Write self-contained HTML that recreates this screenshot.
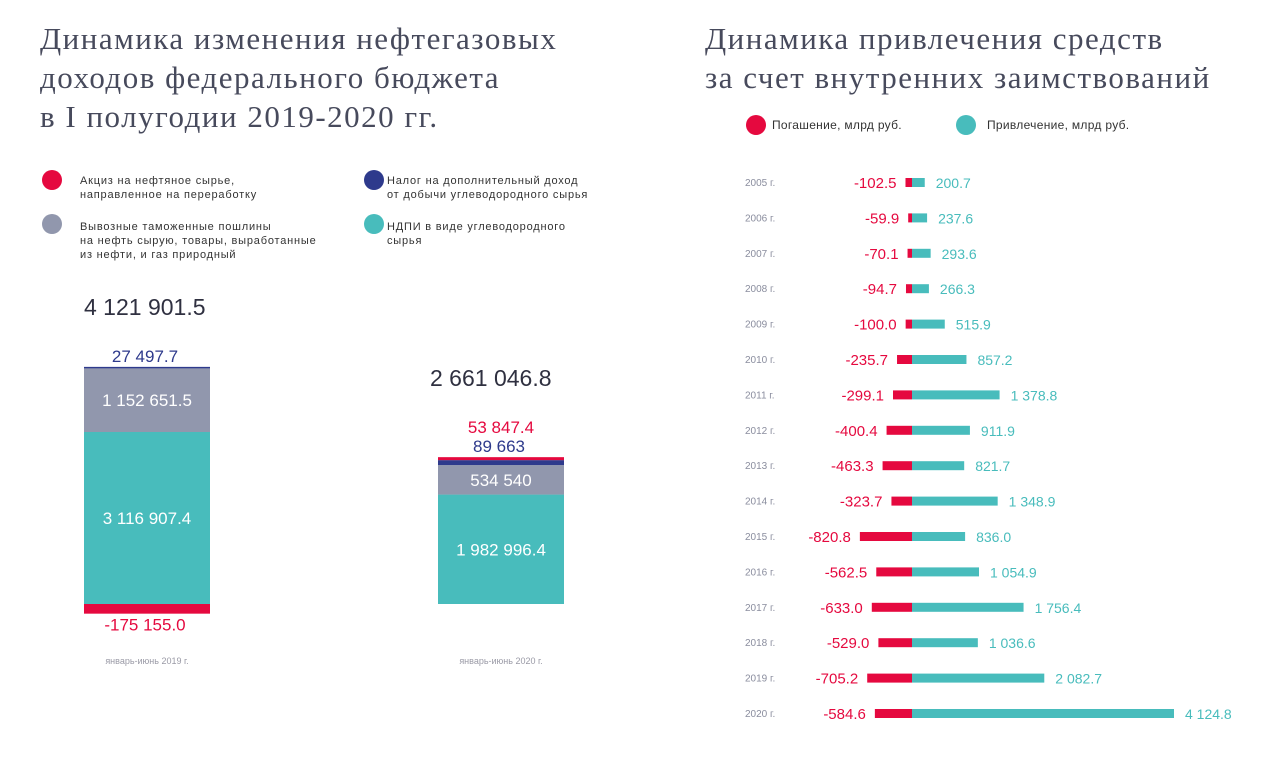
<!DOCTYPE html>
<html><head><meta charset="utf-8">
<style>
body{margin:0;width:1280px;height:757px;background:#fff;overflow:hidden;font-family:"Liberation Sans",sans-serif;position:relative}
.t{position:absolute;font-family:"Liberation Serif",serif;font-size:31px;line-height:39px;color:#474a5c;margin:0;font-weight:normal;letter-spacing:1.5px}
.leg{position:absolute;font-size:11px;line-height:14px;color:#333;letter-spacing:0.8px}
.dot{position:absolute;width:20px;height:20px;border-radius:50%}
svg{position:absolute;left:0;top:0}
</style></head><body>
<h1 class="t" style="left:40px;top:19px">Динамика изменения нефтегазовых<br>доходов федерального бюджета<br>в I полугодии 2019-2020 гг.</h1>
<h1 class="t" style="left:705px;top:19px">Динамика привлечения средств<br>за счет внутренних заимствований</h1>

<div class="dot" style="left:42px;top:170px;background:#e5093f"></div>
<div class="leg" style="left:80px;top:174px">Акциз на нефтяное сырье,<br>направленное на переработку</div>
<div class="dot" style="left:364px;top:170px;background:#2e3a8c"></div>
<div class="leg" style="left:387px;top:174px">Налог на дополнительный доход<br>от добычи углеводородного сырья</div>
<div class="dot" style="left:42px;top:214px;background:#9197ad"></div>
<div class="leg" style="left:80px;top:220px">Вывозные таможенные пошлины<br>на нефть сырую, товары, выработанные<br>из нефти, и газ природный</div>
<div class="dot" style="left:364px;top:214px;background:#48bcbc"></div>
<div class="leg" style="left:387px;top:220px">НДПИ в виде углеводородного<br>сырья</div>

<div class="dot" style="left:746px;top:115px;background:#e5093f"></div>
<div class="leg" style="left:772px;top:118px;font-size:12px;letter-spacing:0.3px">Погашение, млрд руб.</div>
<div class="dot" style="left:956px;top:115px;background:#48bcbc"></div>
<div class="leg" style="left:987px;top:118px;font-size:12px;letter-spacing:0.3px">Привлечение, млрд руб.</div>

<svg id="chart" width="1280" height="757"></svg>
<script>
const periods=["январь-июнь 2019 г.","январь-июнь 2020 г."];
const totals=["4 121 901.5","2 661 046.8"];
const ndpi=[3116907.4,1982996.4];
const exportDuty=[1152651.5,534540];
const ndd=[27497.7,89663];
const excise=[-175155.0,53847.4];
const ndpiLbl=["3 116 907.4","1 982 996.4"];
const exportLbl=["1 152 651.5","534 540"];
const nddLbl=["27 497.7","89 663"];
const exciseLbl=["-175 155.0","53 847.4"];

const years=["2005 г.","2006 г.","2007 г.","2008 г.","2009 г.","2010 г.","2011 г.","2012 г.","2013 г.","2014 г.","2015 г.","2016 г.","2017 г.","2018 г.","2019 г.","2020 г."];
const repay=[-102.5,-59.9,-70.1,-94.7,-100.0,-235.7,-299.1,-400.4,-463.3,-323.7,-820.8,-562.5,-633.0,-529.0,-705.2,-584.6];
const borrow=[200.7,237.6,293.6,266.3,515.9,857.2,1378.8,911.9,821.7,1348.9,836.0,1054.9,1756.4,1036.6,2082.7,4124.8];
const borrowLbl=["200.7","237.6","293.6","266.3","515.9","857.2","1 378.8","911.9","821.7","1 348.9","836.0","1 054.9","1 756.4","1 036.6","2 082.7","4 124.8"];

const svg=document.getElementById('chart');
const NS="http://www.w3.org/2000/svg";
function mk(tag,attrs,txt){const e=document.createElementNS(NS,tag);for(const k in attrs)e.setAttribute(k,attrs[k]);if(txt!==undefined)e.textContent=txt;svg.appendChild(e);return e;}
const RED="#e5093f",TEAL="#48bcbc",GREY="#9197ad",NAVY="#2e3a8c";

const base=604, k=172/3116907.4;
const barX=[84,438], barW=126;
periods.forEach((p,i)=>{
  const x=barX[i], cx=x+barW/2;
  let top=base;
  const segs=[[ndpi[i],TEAL,'ndpi'],[exportDuty[i],GREY,'export'],[ndd[i],NAVY,'ndd']];
  if(excise[i]>0) segs.push([excise[i],RED,'excise']);
  const stackEnds=[];
  segs.forEach(s=>{
    const h=s[0]*k;
    const r=mk('rect',{x:x,y:top-h,width:barW,height:h,fill:s[1]});
    
    
    stackEnds.push([top-h,top]);
    top-=h;
  });
  if(excise[i]<0){
    const h=-excise[i]*k;
    const r=mk('rect',{x:x,y:base,width:barW,height:h,fill:RED});
    
    
    const t=mk('text',{x:cx-2,y:base+h+17,'text-anchor':'middle','font-size':17,fill:RED},exciseLbl[i]);
    
    
  }
  const t1=mk('text',{x:cx,y:(stackEnds[0][0]+stackEnds[0][1])/2+6,'text-anchor':'middle','font-size':17,fill:'#fff'},ndpiLbl[i]);
  
  
  const t2=mk('text',{x:cx,y:(stackEnds[1][0]+stackEnds[1][1])/2+6,'text-anchor':'middle','font-size':17,fill:'#fff'},exportLbl[i]);
  
  
  let ly=top-5;
  const t3=mk('text',{x:cx-2,y:ly,'text-anchor':'middle','font-size':17,fill:NAVY},nddLbl[i]);
  
  
  if(excise[i]>0){
    const t4=mk('text',{x:cx,y:ly-19,'text-anchor':'middle','font-size':17,fill:RED},exciseLbl[i]);
    
    
    ly-=19;
  }
  const tt=mk('text',{x:x+(i?-8:0),y:ly-47,'font-size':23,fill:'#2f3040'},totals[i]);
  
  
  const pl=mk('text',{x:cx,y:664,'text-anchor':'middle','font-size':9,fill:'#9a9aa6'},p);
  
  
});

const cx0=912, sc=262/4124.8;
const xR=v=>cx0+v*sc;
const rowY=i=>182+i*35.4;
years.forEach((y,i)=>{
  const yy=rowY(i);
  const yl=mk('text',{x:745,y:yy+4,'font-size':10,fill:'#8a8d9e'},y);
  
  
  const r1=mk('rect',{x:xR(repay[i]),y:yy-4,width:cx0-xR(repay[i]),height:9,fill:RED});
  
  
  const r2=mk('rect',{x:cx0,y:yy-4,width:xR(borrow[i])-cx0,height:9,fill:TEAL});
  
  
  const lr=mk('text',{x:xR(repay[i])-9,y:yy+6,'text-anchor':'end','font-size':15,fill:RED},repay[i].toFixed(1));
  
  
  const lb=mk('text',{x:xR(borrow[i])+11,y:yy+6,'font-size':14,fill:TEAL},borrowLbl[i]);
  
  
});
</script>
</body></html>
